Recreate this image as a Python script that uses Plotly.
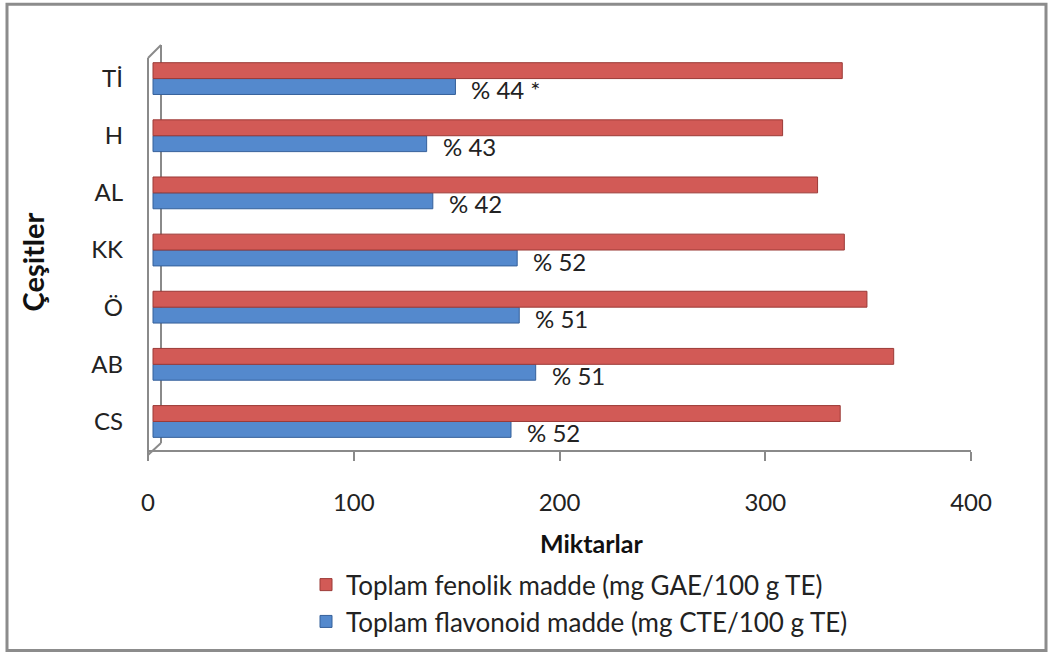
import plotly.graph_objects as go

categories = ["CS", "AB", "Ö", "KK", "AL", "H", "Tİ"]
fenolik = [334, 360, 347, 336, 323, 306, 335]
flavonoid = [174, 186, 178, 177, 136, 133, 147]
percent_labels = ["% 52", "% 51", "% 51", "% 52", "% 42", "% 43", "% 44 *"]
x_ticks = [0, 100, 200, 300, 400]

W, H = 1052, 657
L, R, T, B = 148, 971, 50, 459  # plot area in pixels
pw, ph = R - L, B - T

def px(x):
    return (x - L) / pw

def py(y):
    return (B - y) / ph

FONT = "Lato, 'Open Sans', sans-serif"
GRAY = "#8A8A8A"
# bars sit on the 3D depth plane, a few pixels right of the front scale
shift_units = 5 / (pw / 400)

fig = go.Figure()
fig.add_trace(go.Bar(
    y=categories, x=flavonoid, orientation="h",
    name="Toplam flavonoid madde (mg CTE/100 g TE)",
    marker=dict(color="#5489CD", line=dict(color="#35609A", width=1)),
))
fig.add_trace(go.Bar(
    y=categories, x=fenolik, orientation="h",
    name="Toplam fenolik madde (mg GAE/100 g TE)",
    marker=dict(color="#D25A56", line=dict(color="#9B3A37", width=1)),
))

annotations = []
for c, v, t in zip(categories, flavonoid, percent_labels):
    annotations.append(dict(
        x=v, y=c, xref="x", yref="y", text=t, showarrow=False,
        xanchor="left", yanchor="middle", xshift=14, yshift=-11,
        font=dict(family=FONT, size=24, color="#222222"),
    ))
annotations.append(dict(
    x=px(591), y=py(547), xref="paper", yref="paper", text="<b>Miktarlar</b>",
    showarrow=False, xanchor="center", yanchor="middle",
    font=dict(family=FONT, size=25, color="#111111"),
))
annotations.append(dict(
    x=px(32), y=py(264), xref="paper", yref="paper", text="<b>Çeşitler</b>",
    showarrow=False, xanchor="center", yanchor="middle", textangle=-90,
    font=dict(family=FONT, size=29, color="#111111"),
))

shapes = [
    dict(type="rect", xref="paper", yref="paper", x0=px(7), x1=px(1046), y0=py(655), y1=py(4),
         line=dict(color="#8C8C8C", width=3), fillcolor="rgba(0,0,0,0)", layer="below"),
    dict(type="line", xref="paper", yref="paper", x0=px(148), x1=px(148), y0=py(459), y1=py(58),
         line=dict(color=GRAY, width=2)),
    dict(type="line", xref="paper", yref="paper", x0=px(148), x1=px(161), y0=py(58), y1=py(45),
         line=dict(color=GRAY, width=2)),
    dict(type="line", xref="paper", yref="paper", x0=px(161), x1=px(161), y0=py(45), y1=py(446),
         line=dict(color=GRAY, width=2), layer="below"),
    dict(type="line", xref="paper", yref="paper", x0=px(148), x1=px(161), y0=py(458), y1=py(446),
         line=dict(color=GRAY, width=2), layer="below"),
]

fig.update_layout(
    width=W, height=H,
    margin=dict(l=L, r=W - R, t=T, b=H - B, pad=0),
    paper_bgcolor="white", plot_bgcolor="white",
    barmode="group", bargap=0.444, bargroupgap=0,
    showlegend=True,
    legend=dict(
        orientation="v", x=px(306), xanchor="left", y=py(565), yanchor="top",
        traceorder="reversed", font=dict(family=FONT, size=26, color="#222222"),
        bgcolor="rgba(0,0,0,0)", itemclick=False, tracegroupgap=0,
    ),
    xaxis=dict(
        range=[-shift_units, 400 - shift_units],
        tickvals=[v - shift_units for v in x_ticks], ticktext=[str(v) for v in x_ticks],
        showgrid=False, zeroline=False, showline=True, linecolor=GRAY, linewidth=2,
        ticks="outside", ticklen=9, tickwidth=2, tickcolor=GRAY,
        tickfont=dict(family=FONT, size=24, color="#222222"), ticklabelstandoff=21,
        fixedrange=True,
    ),
    yaxis=dict(
        domain=[py(453), 1], categoryorder="array", categoryarray=categories,
        showgrid=False, zeroline=False, showline=False, ticks="",
        tickfont=dict(family=FONT, size=24, color="#222222"), ticklabelstandoff=24,
    ),
    annotations=annotations,
    shapes=shapes,
    font=dict(family=FONT),
)

fig.write_html("out.html")
